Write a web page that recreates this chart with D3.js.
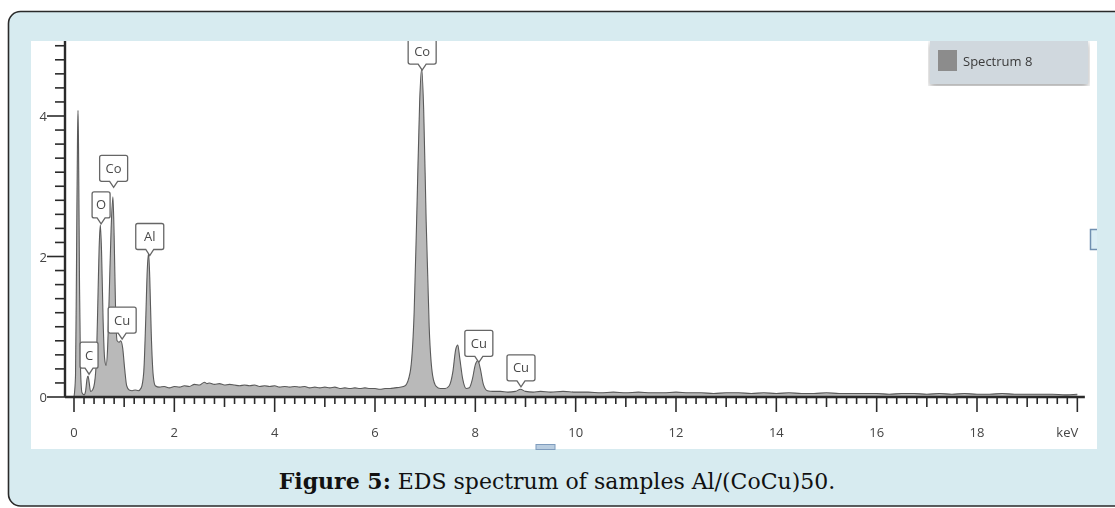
<!DOCTYPE html>
<html>
<head>
<meta charset="utf-8">
<script src="https://cdn.jsdelivr.net/npm/d3@7/dist/d3.min.js"></script>
<style>
  html, body { margin: 0; padding: 0; background: #ffffff; }
  svg { display: block; }
</style>
</head>
<body>
<svg id="fig" width="1115" height="508"></svg>
<script>
// EDS spectrum of Al/(CoCu)50 — energy (keV) and intensity (cps/eV)
const energy = [
  0.00, 0.03, 0.05, 0.07, 0.08, 0.09, 0.11, 0.13, 0.16, 0.20,
  0.23, 0.26, 0.28, 0.30, 0.33, 0.37, 0.41, 0.45, 0.48, 0.50,
  0.525, 0.55, 0.58, 0.61, 0.64, 0.67, 0.70, 0.74, 0.776, 0.80,
  0.83, 0.86, 0.90, 0.93, 0.97, 1.01, 1.05, 1.10, 1.16, 1.22,
  1.28, 1.34, 1.39, 1.43, 1.46, 1.487, 1.51, 1.54, 1.58, 1.62,
  1.70, 1.80, 1.90, 2.00, 2.10, 2.20, 2.30, 2.40, 2.50, 2.60,
  2.65, 2.70, 2.80, 2.90, 3.00, 3.10, 3.20, 3.30, 3.40, 3.50,
  3.60, 3.70, 3.80, 3.90, 4.00, 4.10, 4.20, 4.30, 4.40, 4.50,
  4.60, 4.70, 4.80, 4.90, 5.00, 5.10, 5.20, 5.30, 5.40, 5.50,
  5.60, 5.70, 5.80, 5.90, 6.00, 6.10, 6.20, 6.30, 6.40, 6.50,
  6.60, 6.70, 6.78, 6.84, 6.89, 6.93, 6.97, 7.02, 7.08, 7.15,
  7.22, 7.30, 7.40, 7.48, 7.55, 7.61, 7.65, 7.69, 7.75, 7.82,
  7.88, 7.94, 8.00, 8.05, 8.10, 8.16, 8.24, 8.35, 8.50, 8.65,
  8.80, 8.90, 9.00, 9.15, 9.30, 9.50, 9.75, 10.00, 10.25, 10.50,
  10.75, 11.00, 11.25, 11.50, 11.75, 12.00, 12.25, 12.50, 12.75, 13.00,
  13.25, 13.50, 13.75, 14.00, 14.25, 14.50, 14.75, 15.00, 15.25, 15.50,
  15.75, 16.00, 16.25, 16.50, 16.75, 17.00, 17.25, 17.50, 17.75, 18.00,
  18.25, 18.50, 18.75, 19.00, 19.25, 19.50, 19.75, 20.00
];
const counts = [
  0.00, 0.30, 1.90, 3.70, 4.08, 3.60, 1.60, 0.40, 0.06, 0.03,
  0.08, 0.26, 0.30, 0.22, 0.08, 0.10, 0.20, 0.60, 1.50, 2.10,
  2.45, 2.05, 1.10, 0.55, 0.45, 0.70, 1.40, 2.40, 2.85, 2.30,
  1.20, 0.80, 0.78, 0.80, 0.70, 0.40, 0.16, 0.10, 0.09, 0.10,
  0.09, 0.13, 0.35, 1.10, 1.80, 2.05, 1.70, 0.90, 0.30, 0.16,
  0.14, 0.15, 0.13, 0.15, 0.14, 0.16, 0.15, 0.18, 0.17, 0.21,
  0.19, 0.20, 0.18, 0.19, 0.17, 0.18, 0.17, 0.16, 0.17, 0.16,
  0.17, 0.15, 0.16, 0.15, 0.16, 0.14, 0.15, 0.14, 0.15, 0.14,
  0.15, 0.13, 0.14, 0.13, 0.14, 0.13, 0.14, 0.12, 0.13, 0.12,
  0.13, 0.12, 0.13, 0.12, 0.12, 0.11, 0.12, 0.12, 0.13, 0.14,
  0.16, 0.35, 1.20, 2.80, 4.20, 4.68, 4.10, 2.50, 1.00, 0.30,
  0.15, 0.12, 0.12, 0.16, 0.35, 0.68, 0.74, 0.55, 0.25, 0.12,
  0.13, 0.25, 0.46, 0.52, 0.40, 0.18, 0.09, 0.08, 0.08, 0.07,
  0.08, 0.11, 0.08, 0.07, 0.08, 0.07, 0.08, 0.07, 0.07, 0.06,
  0.07, 0.06, 0.07, 0.06, 0.06, 0.07, 0.06, 0.06, 0.05, 0.06,
  0.06, 0.05, 0.06, 0.05, 0.06, 0.05, 0.05, 0.06, 0.05, 0.05,
  0.05, 0.05, 0.04, 0.05, 0.05, 0.04, 0.05, 0.04, 0.05, 0.04,
  0.04, 0.05, 0.04, 0.04, 0.04, 0.04, 0.03, 0.04
];

// Peak identification callouts
const peakNames = ["C", "O", "Co", "Cu", "Al", "Co", "Cu", "Cu"];
const peakKeV   = [0.30, 0.54, 0.79, 0.96, 1.51, 6.94, 8.07, 8.91];
const peakTip   = [0.31, 2.45, 2.97, 0.81, 2.00, 4.64, 0.48, 0.13];

// Axis tick labels
const xTickLabels = [0, 2, 4, 6, 8, 10, 12, 14, 16, 18];
const yTickLabels = [0, 2, 4];
const xUnit = "keV";
const seriesName = "Spectrum 8";
const captionBold = "Figure 5:";
const captionText = " EDS spectrum of samples Al/(CoCu)50.";

const svg = d3.select("#fig");
const defs = svg.append("defs");

// panel frame
svg.append("rect")
  .attr("x", 8.5).attr("y", 11.5).attr("width", 1130).attr("height", 494.5)
  .attr("rx", 12).attr("ry", 12)
  .attr("fill", "#d7ebf0").attr("stroke", "#2a2a2a").attr("stroke-width", 1.6);

// image area
const img = { x: 31, y: 41, w: 1066, h: 408 };
defs.append("clipPath").attr("id", "imgClip")
  .append("rect").attr("x", img.x).attr("y", img.y).attr("width", img.w).attr("height", img.h);
const soft = defs.append("filter").attr("id", "soft");
soft.append("feGaussianBlur").attr("stdDeviation", 0.6);
const shadow = defs.append("filter").attr("id", "shadow")
  .attr("x", "-10%").attr("y", "-20%").attr("width", "125%").attr("height", "160%");
shadow.append("feGaussianBlur").attr("in", "SourceAlpha").attr("stdDeviation", 3);
shadow.append("feOffset").attr("dx", 0).attr("dy", 3).attr("result", "b");
shadow.append("feComponentTransfer").append("feFuncA").attr("type", "linear").attr("slope", 0.35);
const merge = shadow.append("feMerge");
merge.append("feMergeNode");
merge.append("feMergeNode").attr("in", "SourceGraphic");

svg.append("rect")
  .attr("x", img.x).attr("y", img.y).attr("width", img.w).attr("height", img.h)
  .attr("fill", "#ffffff");

const g = svg.append("g").attr("clip-path", "url(#imgClip)")
  .append("g").attr("filter", "url(#soft)");

// scales
const x = d3.scaleLinear().domain([0, 18]).range([74, 977]);
const y = d3.scaleLinear().domain([0, 4]).range([397, 116]);
const xMin = -0.18, xMax = 20.15;
const yMax = 5.1;

const data = energy.map((e, i) => ({ e, c: counts[i] }));

// spectrum fill + outline
const area = d3.area().x(d => x(d.e)).y0(y(0)).y1(d => y(d.c)).curve(d3.curveMonotoneX);
const line = d3.line().x(d => x(d.e)).y(d => y(d.c)).curve(d3.curveMonotoneX);
g.append("path").datum(data).attr("d", area).attr("fill", "#b9b9b9");
g.append("path").datum(data).attr("d", line)
  .attr("fill", "none").attr("stroke", "#5a5a5a").attr("stroke-width", 1.1);

const labelFont = "'Open Sans', 'DejaVu Sans', sans-serif";

// x axis: minor 0.2 keV, medium 1 keV, major 2 keV
const axisColor = "#2b2b2b";
const xAxisG = g.append("g").attr("transform", `translate(0,${y(0)})`);
xAxisG.append("line").attr("x1", x(xMin)).attr("x2", x(xMax))
  .attr("stroke", axisColor).attr("stroke-width", 2.4);
const xTicks = d3.range(0, 101).map(i => i * 0.2);
xAxisG.selectAll("line.t").data(xTicks).join("line").attr("class", "t")
  .attr("x1", d => x(d)).attr("x2", d => x(d))
  .attr("y1", 0)
  .attr("y2", (d, i) => i % 10 === 0 ? 15 : (i % 5 === 0 ? 10 : 7))
  .attr("stroke", axisColor).attr("stroke-width", 1.6);
xAxisG.selectAll("text").data(xTickLabels).join("text")
  .attr("x", d => x(d)).attr("y", 40)
  .attr("text-anchor", "middle")
  .attr("font-family", labelFont)
  .attr("font-size", 13).attr("fill", "#444")
  .text(d => d);
xAxisG.append("text").attr("x", x(19.8)).attr("y", 40)
  .attr("text-anchor", "middle")
  .attr("font-family", labelFont)
  .attr("font-size", 13).attr("fill", "#444").text(xUnit);

// y axis: minor 0.2, major 2
const yAxisG = g.append("g").attr("transform", `translate(65,0)`);
yAxisG.append("line").attr("y1", y(0)).attr("y2", y(yMax))
  .attr("stroke", axisColor).attr("stroke-width", 2.4);
const yTicks = d3.range(0, 26).map(i => i * 0.2);
yAxisG.selectAll("line.t").data(yTicks).join("line").attr("class", "t")
  .attr("y1", d => y(d)).attr("y2", d => y(d))
  .attr("x1", (d, i) => i % 10 === 0 ? -18 : -10).attr("x2", 0)
  .attr("stroke", axisColor).attr("stroke-width", 1.6);
yAxisG.selectAll("text").data(yTickLabels).join("text")
  .attr("x", -18).attr("y", d => y(d) + 5)
  .attr("text-anchor", "end")
  .attr("font-family", labelFont)
  .attr("font-size", 13).attr("fill", "#444")
  .text(d => d);

// callout boxes pointing at each identified line
peakNames.forEach((name, i) => {
  const cx = x(peakKeV[i]);
  const tipY = y(peakTip[i]) - 1;
  const boxH = 26, ptr = 6;
  const w = name.length > 1 ? 28 : 18;
  const bottom = tipY - ptr;
  const top = bottom - boxH;
  const l = cx - w / 2, r = cx + w / 2, rad = 2;
  const p = d3.path();
  p.moveTo(l + rad, top);
  p.lineTo(r - rad, top); p.quadraticCurveTo(r, top, r, top + rad);
  p.lineTo(r, bottom - rad); p.quadraticCurveTo(r, bottom, r - rad, bottom);
  p.lineTo(cx + 4, bottom); p.lineTo(cx, tipY); p.lineTo(cx - 4, bottom);
  p.lineTo(l + rad, bottom); p.quadraticCurveTo(l, bottom, l, bottom - rad);
  p.lineTo(l, top + rad); p.quadraticCurveTo(l, top, l + rad, top);
  p.closePath();
  g.append("path").attr("d", p.toString())
    .attr("fill", "#ffffff").attr("stroke", "#666").attr("stroke-width", 1.3);
  g.append("text").attr("x", cx).attr("y", top + boxH / 2 + 4.5)
    .attr("text-anchor", "middle").attr("font-family", labelFont)
    .attr("font-size", 13).attr("fill", "#4a4a4a").text(name);
});

// legend
const lg = svg.append("g").attr("clip-path", "url(#imgClip)").append("g").attr("filter", "url(#soft)");
lg.append("rect").attr("x", 930).attr("y", 40).attr("width", 158).attr("height", 44)
  .attr("fill", "#d0d8de").attr("filter", "url(#shadow)");
lg.append("rect").attr("x", 938).attr("y", 50).attr("width", 19).attr("height", 21)
  .attr("fill", "#8c8c8c");
lg.append("text").attr("x", 963).attr("y", 66)
  .attr("font-family", labelFont)
  .attr("font-size", 13).attr("fill", "#3a3a3a").text(seriesName);

// small selection handles left in the exported image
svg.append("path").attr("d", "M1097,229.5 H1090.5 V249.5 H1097")
  .attr("fill", "#dbeef5").attr("stroke", "#6f8fb0").attr("stroke-width", 1.5)
  .attr("filter", "url(#soft)");
svg.append("rect").attr("x", 536).attr("y", 444.5).attr("width", 19).attr("height", 5)
  .attr("fill", "#b9cde0").attr("stroke", "#7f9cbd").attr("stroke-width", 1)
  .attr("filter", "url(#soft)");

// caption
const cap = svg.append("text").attr("x", 557).attr("y", 489)
  .attr("text-anchor", "middle")
  .attr("font-family", "'DejaVu Serif', 'Liberation Serif', serif")
  .attr("font-size", 22).attr("fill", "#111");
cap.append("tspan").attr("font-weight", "bold").text(captionBold);
cap.append("tspan").text(captionText);
</script>
</body>
</html>
